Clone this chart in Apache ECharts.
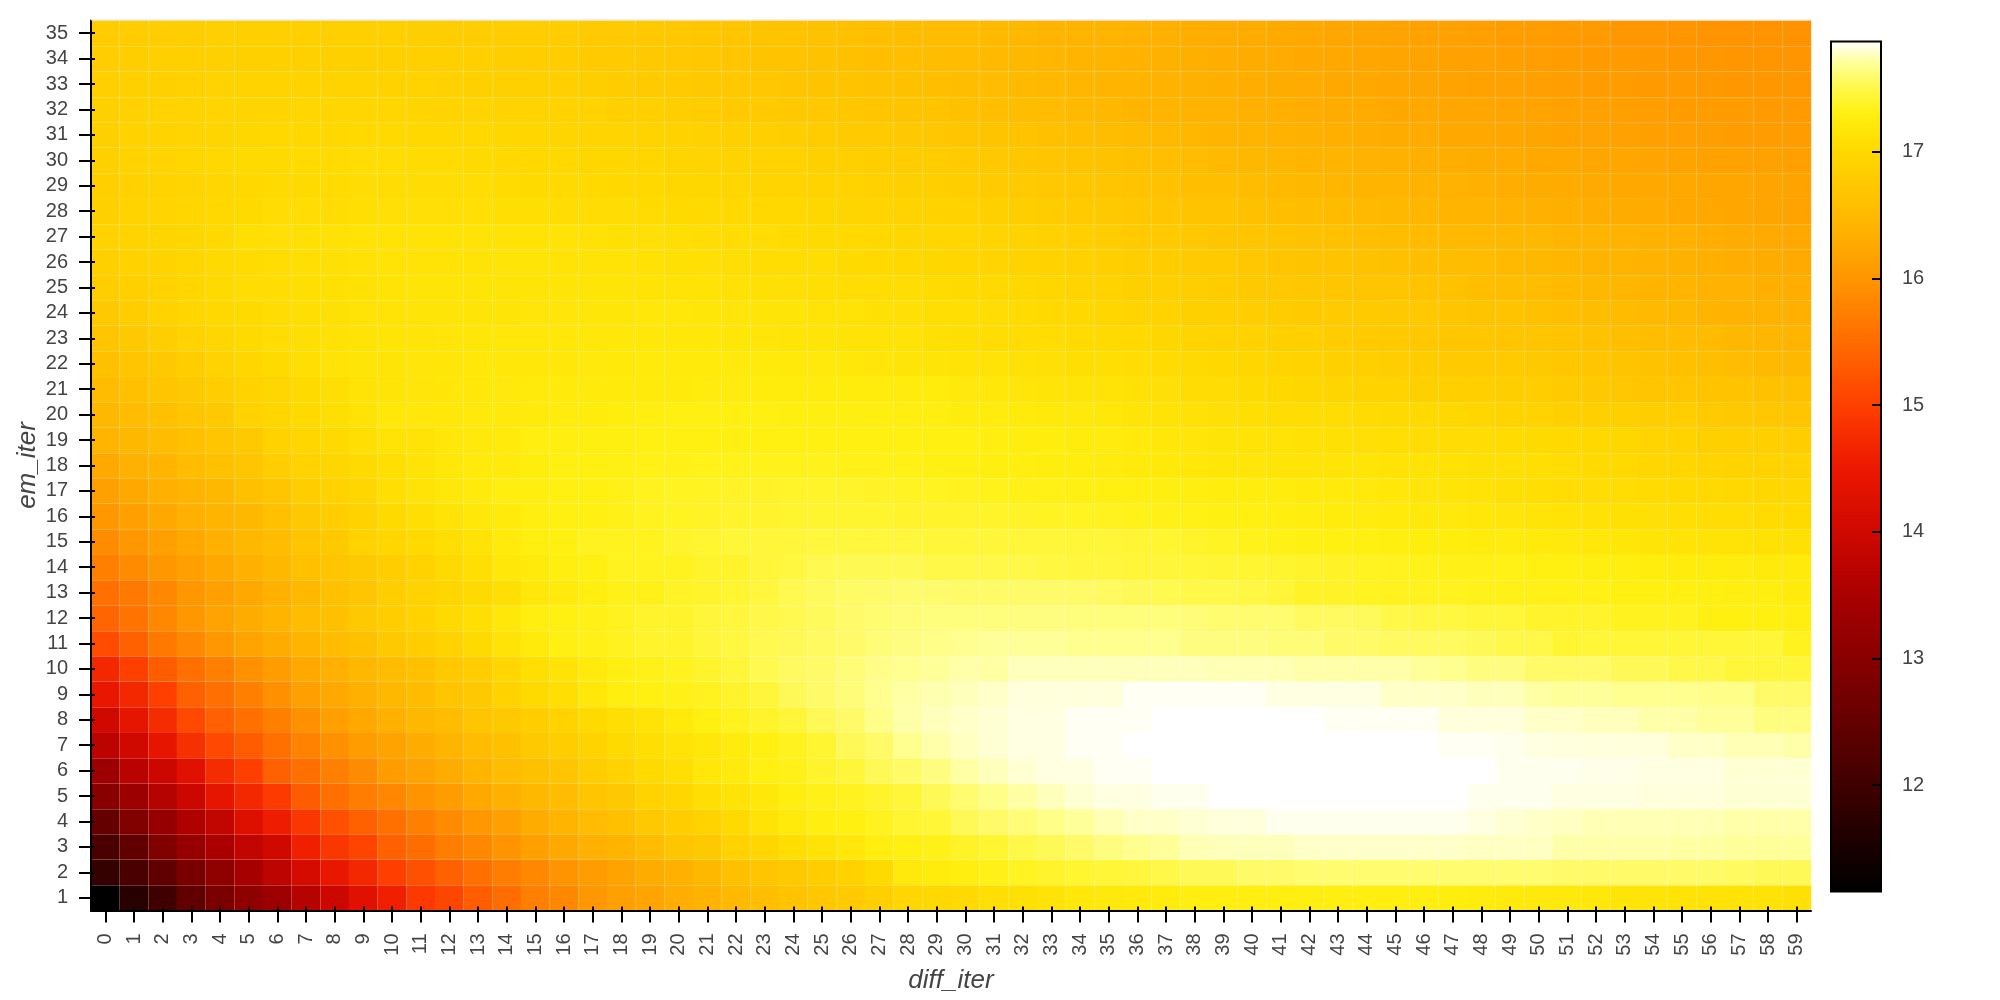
<!DOCTYPE html>
<html>
<head>
<meta charset="utf-8">
<style>html,body{margin:0;padding:0;background:#fff}#c{width:2000px;height:1000px}</style>
<script src="https://cdn.jsdelivr.net/npm/echarts@6/dist/echarts.min.js"></script>
</head>
<body>
<div id="c"></div>
<script>
const diffIter = ["0","1","2","3","4","5","6","7","8","9","10","11","12","13","14","15","16","17","18","19","20","21","22","23","24","25","26","27","28","29","30","31","32","33","34","35","36","37","38","39","40","41","42","43","44","45","46","47","48","49","50","51","52","53","54","55","56","57","58","59"];
const emIter = ["1","2","3","4","5","6","7","8","9","10","11","12","13","14","15","16","17","18","19","20","21","22","23","24","25","26","27","28","29","30","31","32","33","34","35"];
const colorbarTicks = [12,13,14,15,16,17];
const valueMin = 11.16;
const valueMax = 17.87;

const em1 = [11.16,11.7,12.0,12.43,12.8,13.1,13.3,13.65,13.95,14.3,14.6,14.92,15.08,15.33,15.5,15.72,15.83,16.02,16.12,16.2,16.33,16.4,16.5,16.58,16.65,16.72,16.78,16.85,16.96,17.0,
 17.03,17.08,17.1,17.13,17.18,17.2,17.22,17.25,17.28,17.28,17.28,17.28,17.28,17.28,17.28,17.28,17.28,17.26,17.25,17.23,17.2,17.2,17.18,17.15,17.15,17.13,17.13,17.13,17.13,17.1];
const em2 = [11.85,12.15,12.43,12.8,13.1,13.45,13.75,14.1,14.45,14.7,15.0,15.18,15.37,15.55,15.7,15.83,15.98,16.08,16.19,16.3,16.36,16.47,16.61,16.68,16.75,16.82,16.89,17.03,17.2,17.25,
 17.28,17.33,17.36,17.4,17.42,17.44,17.46,17.5,17.54,17.54,17.58,17.58,17.6,17.6,17.6,17.6,17.6,17.6,17.6,17.6,17.6,17.58,17.58,17.58,17.58,17.58,17.58,17.56,17.54,17.54];
const em3 = [12.15,12.43,12.9,13.2,13.5,13.8,14.0,14.6,14.9,15.05,15.37,15.5,15.7,15.83,15.98,16.13,16.25,16.36,16.42,16.53,16.68,16.75,16.89,16.96,17.08,17.13,17.18,17.28,17.3,17.33,
 17.38,17.42,17.5,17.54,17.58,17.64,17.68,17.7,17.75,17.76,17.76,17.76,17.78,17.78,17.78,17.78,17.78,17.78,17.77,17.77,17.77,17.73,17.73,17.73,17.73,17.72,17.72,17.7,17.7,17.7];
const em4 = [12.5,12.9,13.2,13.55,13.8,14.25,14.55,14.9,15.18,15.37,15.55,15.74,15.87,16.03,16.13,16.3,16.42,16.53,16.61,16.75,16.82,16.89,17.03,17.13,17.23,17.28,17.3,17.35,17.42,17.44,
 17.54,17.58,17.62,17.66,17.7,17.75,17.78,17.78,17.8,17.81,17.81,17.84,17.84,17.84,17.84,17.84,17.84,17.84,17.82,17.8,17.78,17.77,17.75,17.75,17.75,17.75,17.75,17.73,17.73,17.73];
const em5 = [13.0,13.3,13.65,13.95,14.4,14.7,14.95,15.32,15.55,15.7,15.83,15.98,16.08,16.25,16.36,16.47,16.53,16.68,16.75,16.89,16.96,17.08,17.13,17.18,17.28,17.33,17.35,17.4,17.45,17.54,
 17.6,17.66,17.72,17.76,17.8,17.82,17.82,17.84,17.84,17.87,17.87,17.87,17.87,17.87,17.87,17.87,17.87,17.87,17.84,17.84,17.84,17.82,17.82,17.82,17.81,17.81,17.81,17.8,17.8,17.8];
const em6 = [13.3,13.7,13.95,14.3,14.75,15.0,15.37,15.55,15.74,15.87,16.08,16.19,16.3,16.42,16.53,16.61,16.68,16.82,16.89,17.03,17.08,17.18,17.23,17.3,17.33,17.4,17.45,17.54,17.58,17.64,
 17.72,17.76,17.8,17.82,17.82,17.85,17.85,17.87,17.87,17.87,17.87,17.87,17.87,17.87,17.87,17.87,17.87,17.87,17.87,17.84,17.84,17.84,17.83,17.83,17.82,17.82,17.82,17.8,17.8,17.8];
const em7 = [13.72,14.0,14.4,14.8,15.1,15.32,15.55,15.78,15.93,16.08,16.19,16.3,16.42,16.53,16.61,16.75,16.82,16.89,17.03,17.08,17.13,17.18,17.25,17.3,17.35,17.42,17.54,17.58,17.68,17.73,
 17.77,17.8,17.82,17.82,17.85,17.85,17.87,17.87,17.87,17.87,17.87,17.87,17.87,17.87,17.87,17.87,17.87,17.85,17.85,17.84,17.82,17.81,17.81,17.81,17.81,17.78,17.78,17.75,17.75,17.73];
const em8 = [14.0,14.4,14.75,15.1,15.37,15.55,15.74,15.93,16.13,16.25,16.36,16.47,16.53,16.68,16.75,16.82,16.89,17.03,17.08,17.13,17.23,17.3,17.35,17.4,17.45,17.54,17.58,17.66,17.73,17.76,
 17.78,17.8,17.82,17.82,17.85,17.85,17.85,17.87,17.87,17.87,17.87,17.87,17.87,17.85,17.85,17.85,17.85,17.81,17.81,17.81,17.78,17.78,17.76,17.76,17.73,17.73,17.7,17.7,17.64,17.64];
const em9 = [14.45,14.7,15.0,15.37,15.55,15.74,15.93,16.13,16.25,16.36,16.47,16.53,16.68,16.75,16.89,17.03,17.08,17.18,17.28,17.3,17.33,17.35,17.4,17.45,17.54,17.58,17.62,17.68,17.72,17.74,
 17.76,17.78,17.81,17.81,17.81,17.81,17.85,17.85,17.85,17.85,17.85,17.82,17.82,17.82,17.82,17.78,17.78,17.78,17.76,17.76,17.72,17.7,17.7,17.68,17.68,17.68,17.66,17.66,17.58,17.58];
const em10 = [14.7,15.0,15.32,15.55,15.74,15.93,16.08,16.25,16.36,16.47,16.53,16.61,16.75,16.82,16.96,17.08,17.13,17.23,17.3,17.33,17.35,17.4,17.45,17.52,17.56,17.58,17.62,17.66,17.68,17.7,
 17.73,17.72,17.76,17.76,17.76,17.76,17.76,17.76,17.76,17.75,17.75,17.75,17.73,17.73,17.73,17.73,17.7,17.68,17.64,17.64,17.58,17.58,17.58,17.54,17.54,17.5,17.5,17.45,17.45,17.45];
const em11 = [15.15,15.37,15.64,15.83,16.03,16.19,16.3,16.42,16.53,16.61,16.75,16.82,16.89,17.03,17.13,17.23,17.3,17.33,17.35,17.4,17.4,17.45,17.47,17.52,17.54,17.56,17.58,17.62,17.64,17.66,
 17.68,17.7,17.7,17.7,17.68,17.68,17.68,17.68,17.64,17.64,17.64,17.62,17.62,17.58,17.58,17.56,17.56,17.56,17.54,17.5,17.5,17.42,17.44,17.44,17.44,17.44,17.44,17.44,17.44,17.35];
const em12 = [15.42,15.6,15.83,16.03,16.19,16.3,16.42,16.53,16.61,16.75,16.82,16.89,17.03,17.08,17.18,17.28,17.3,17.33,17.35,17.4,17.4,17.45,17.46,17.5,17.52,17.55,17.58,17.6,17.62,17.63,
 17.63,17.63,17.64,17.64,17.63,17.63,17.63,17.63,17.62,17.6,17.6,17.6,17.56,17.56,17.55,17.5,17.48,17.47,17.45,17.45,17.4,17.4,17.4,17.35,17.35,17.35,17.3,17.3,17.3,17.28];
const em13 = [15.55,15.64,15.83,16.03,16.13,16.25,16.36,16.47,16.61,16.68,16.82,16.89,16.96,17.03,17.08,17.18,17.23,17.28,17.33,17.33,17.38,17.4,17.42,17.46,17.52,17.55,17.57,17.58,17.59,17.59,
 17.58,17.58,17.58,17.58,17.58,17.56,17.54,17.52,17.5,17.5,17.48,17.45,17.38,17.38,17.36,17.35,17.35,17.35,17.34,17.33,17.33,17.32,17.32,17.3,17.3,17.3,17.3,17.28,17.28,17.23];
const em14 = [15.74,15.87,16.03,16.13,16.25,16.36,16.47,16.61,16.68,16.75,16.82,16.89,17.03,17.08,17.18,17.23,17.28,17.3,17.35,17.35,17.35,17.4,17.4,17.45,17.47,17.52,17.53,17.53,17.53,17.5,
 17.5,17.5,17.5,17.47,17.46,17.46,17.45,17.45,17.44,17.43,17.42,17.41,17.4,17.38,17.36,17.35,17.34,17.33,17.33,17.32,17.3,17.3,17.29,17.28,17.26,17.25,17.25,17.24,17.23,17.22];
const em15 = [15.87,16.03,16.13,16.25,16.36,16.47,16.53,16.68,16.75,16.89,16.96,17.03,17.08,17.13,17.23,17.28,17.3,17.35,17.35,17.35,17.4,17.42,17.44,17.45,17.45,17.46,17.46,17.46,17.46,17.45,
 17.45,17.45,17.45,17.45,17.44,17.44,17.43,17.42,17.4,17.37,17.34,17.32,17.31,17.3,17.3,17.29,17.27,17.26,17.25,17.24,17.23,17.2,17.18,17.17,17.14,17.13,17.13,17.12,17.11,17.1];
const em16 = [16.03,16.13,16.25,16.36,16.42,16.47,16.61,16.75,16.82,16.89,17.03,17.08,17.13,17.18,17.23,17.28,17.3,17.3,17.33,17.35,17.36,17.38,17.4,17.4,17.41,17.41,17.41,17.41,17.4,17.4,
 17.4,17.39,17.38,17.37,17.36,17.35,17.34,17.33,17.32,17.31,17.3,17.28,17.26,17.25,17.24,17.23,17.21,17.2,17.18,17.16,17.15,17.13,17.11,17.1,17.09,17.08,17.06,17.05,17.04,17.03];
const em17 = [16.13,16.25,16.36,16.42,16.47,16.61,16.68,16.82,16.89,16.96,17.08,17.13,17.18,17.23,17.28,17.28,17.3,17.3,17.33,17.35,17.36,17.37,17.38,17.38,17.39,17.39,17.39,17.38,17.37,17.36,
 17.35,17.34,17.33,17.32,17.31,17.3,17.3,17.29,17.28,17.27,17.27,17.25,17.23,17.22,17.2,17.18,17.16,17.14,17.12,17.1,17.08,17.07,17.06,17.05,17.04,17.03,17.01,17.0,16.98,16.97];
const em18 = [16.25,16.36,16.42,16.53,16.61,16.68,16.82,16.89,16.96,17.03,17.08,17.13,17.18,17.23,17.23,17.27,17.3,17.3,17.31,17.32,17.33,17.34,17.34,17.34,17.34,17.34,17.33,17.33,17.32,17.31,
 17.3,17.29,17.28,17.27,17.26,17.25,17.23,17.21,17.19,17.17,17.16,17.15,17.15,17.14,17.14,17.13,17.12,17.11,17.1,17.09,17.08,17.06,17.03,17.01,16.98,16.96,16.94,16.92,16.91,16.89];
const em19 = [16.42,16.47,16.53,16.61,16.68,16.75,16.89,16.96,17.03,17.08,17.13,17.13,17.18,17.2,17.23,17.28,17.28,17.29,17.29,17.3,17.3,17.3,17.3,17.3,17.3,17.3,17.3,17.3,17.3,17.3,
 17.3,17.28,17.27,17.26,17.25,17.24,17.22,17.19,17.16,17.14,17.13,17.12,17.11,17.1,17.09,17.08,17.07,17.06,17.05,17.04,17.03,17.01,16.99,16.97,16.94,16.89,16.87,16.85,16.84,16.82];
const em20 = [16.47,16.53,16.61,16.68,16.75,16.89,16.96,17.03,17.08,17.13,17.18,17.18,17.18,17.2,17.2,17.23,17.24,17.25,17.26,17.28,17.3,17.3,17.3,17.3,17.29,17.29,17.29,17.28,17.28,17.28,
 17.25,17.24,17.22,17.21,17.2,17.18,17.15,17.13,17.11,17.09,17.08,17.07,17.06,17.05,17.04,17.03,17.01,16.99,16.96,16.92,16.89,16.87,16.85,16.84,16.83,16.82,16.79,16.75,16.72,16.68];
const em21 = [16.53,16.61,16.68,16.75,16.82,16.89,16.96,17.03,17.08,17.12,17.14,17.16,17.18,17.18,17.2,17.23,17.23,17.23,17.23,17.23,17.23,17.24,17.24,17.25,17.25,17.25,17.25,17.25,17.25,17.25,
 17.2,17.18,17.16,17.15,17.14,17.13,17.11,17.09,17.07,17.05,17.03,17.0,16.97,16.95,16.92,16.89,16.87,16.85,16.84,16.83,16.82,16.78,16.75,16.72,16.7,16.68,16.66,16.64,16.62,16.61];
const em22 = [16.61,16.68,16.75,16.82,16.89,16.96,17.03,17.08,17.13,17.14,17.15,17.16,17.17,17.18,17.18,17.18,17.19,17.2,17.21,17.22,17.23,17.23,17.23,17.22,17.21,17.2,17.18,17.16,17.15,17.14,
 17.13,17.12,17.11,17.09,17.08,17.08,17.06,17.04,17.02,16.99,16.96,16.93,16.9,16.87,16.84,16.82,16.81,16.79,16.78,16.76,16.75,16.72,16.69,16.66,16.63,16.61,16.58,16.54,16.5,16.47];
const em23 = [16.68,16.75,16.82,16.89,16.96,17.03,17.05,17.08,17.11,17.13,17.14,17.15,17.16,17.17,17.18,17.18,17.18,17.18,17.18,17.18,17.18,17.18,17.17,17.16,17.15,17.14,17.13,17.13,17.12,17.1,
 17.08,17.07,17.06,17.05,17.04,17.03,17.01,16.98,16.95,16.92,16.89,16.87,16.84,16.81,16.78,16.75,16.74,16.72,16.71,16.69,16.68,16.65,16.62,16.59,16.56,16.53,16.51,16.48,16.45,16.42];
const em24 = [16.75,16.82,16.89,16.96,17.0,17.03,17.05,17.08,17.1,17.12,17.13,17.14,17.14,17.15,17.15,17.16,17.16,17.17,17.17,17.18,17.18,17.17,17.16,17.15,17.14,17.13,17.12,17.1,17.09,17.08,
 17.08,17.06,17.04,17.01,16.99,16.96,16.93,16.9,16.87,16.85,16.82,16.81,16.79,16.77,16.76,16.75,16.73,16.7,16.67,16.64,16.61,16.58,16.55,16.52,16.49,16.47,16.43,16.4,16.38,16.36];
const em25 = [16.82,16.85,16.89,16.96,17.03,17.05,17.07,17.08,17.1,17.11,17.13,17.14,17.14,17.15,17.15,17.15,17.15,17.14,17.14,17.13,17.13,17.12,17.11,17.1,17.09,17.08,17.07,17.06,17.05,17.04,
 17.03,17.01,16.99,16.97,16.94,16.89,16.87,16.85,16.83,16.8,16.75,16.74,16.72,16.7,16.69,16.68,16.65,16.62,16.59,16.56,16.53,16.5,16.47,16.45,16.44,16.42,16.4,16.38,16.35,16.33];
const em26 = [16.87,16.89,16.92,16.96,17.02,17.04,17.06,17.08,17.1,17.11,17.13,17.13,17.13,17.13,17.14,17.14,17.13,17.13,17.12,17.11,17.1,17.09,17.08,17.07,17.06,17.05,17.03,17.01,17.0,16.98,
 16.96,16.94,16.92,16.9,16.88,16.85,16.83,16.81,16.79,16.76,16.71,16.69,16.67,16.65,16.63,16.61,16.59,16.56,16.53,16.5,16.47,16.45,16.43,16.41,16.39,16.37,16.34,16.32,16.3,16.28];
const em27 = [16.89,16.92,16.95,16.98,17.01,17.08,17.09,17.1,17.11,17.12,17.13,17.13,17.13,17.13,17.13,17.13,17.12,17.11,17.1,17.09,17.08,17.07,17.06,17.05,17.04,17.03,17.01,16.99,16.97,16.96,
 16.96,16.93,16.91,16.88,16.85,16.82,16.79,16.76,16.73,16.7,16.68,16.66,16.63,16.6,16.57,16.55,16.52,16.5,16.49,16.48,16.47,16.44,16.41,16.39,16.37,16.36,16.33,16.3,16.28,16.25];
const em28 = [16.87,16.9,16.93,16.96,16.99,17.03,17.05,17.06,17.07,17.08,17.09,17.09,17.09,17.09,17.08,17.08,17.07,17.06,17.05,17.04,17.03,17.02,17.01,17.0,16.99,16.97,16.95,16.93,16.91,16.9,
 16.89,16.86,16.83,16.8,16.77,16.75,16.72,16.69,16.66,16.64,16.61,16.58,16.55,16.52,16.5,16.47,16.45,16.43,16.41,16.39,16.36,16.34,16.33,16.31,16.29,16.27,16.25,16.23,16.21,16.19];
const em29 = [16.85,16.88,16.91,16.93,16.96,17.0,17.02,17.03,17.04,17.05,17.05,17.05,17.05,17.05,17.04,17.03,17.02,17.01,17.0,16.99,16.98,16.97,16.96,16.95,16.93,16.92,16.9,16.88,16.86,16.84,
 16.82,16.79,16.76,16.73,16.71,16.68,16.65,16.62,16.59,16.57,16.53,16.5,16.47,16.45,16.43,16.42,16.4,16.38,16.36,16.33,16.3,16.29,16.28,16.27,16.26,16.25,16.23,16.22,16.2,16.19];
const em30 = [16.87,16.9,16.93,16.96,17.0,17.03,17.03,17.04,17.04,17.05,17.05,17.04,17.04,17.03,17.02,17.0,16.99,16.98,16.97,16.96,16.95,16.93,16.92,16.9,16.89,16.87,16.85,16.83,16.81,16.8,
 16.78,16.75,16.72,16.69,16.66,16.63,16.6,16.57,16.54,16.5,16.47,16.45,16.43,16.41,16.39,16.37,16.35,16.33,16.31,16.29,16.27,16.25,16.24,16.22,16.2,16.18,16.17,16.16,16.15,16.14];
const em31 = [16.86,16.89,16.91,16.93,16.95,16.98,16.99,17.0,17.0,17.01,17.01,17.0,17.0,16.99,16.98,16.96,16.95,16.94,16.93,16.91,16.9,16.88,16.87,16.85,16.83,16.81,16.79,16.77,16.75,16.72,
 16.7,16.67,16.64,16.61,16.58,16.55,16.52,16.49,16.46,16.43,16.41,16.39,16.37,16.35,16.33,16.31,16.29,16.27,16.25,16.23,16.21,16.19,16.18,16.16,16.14,16.12,16.11,16.1,16.09,16.08];
const em32 = [16.86,16.88,16.9,16.91,16.93,16.95,16.95,16.96,16.96,16.96,16.96,16.95,16.94,16.93,16.92,16.91,16.9,16.89,16.87,16.85,16.83,16.81,16.79,16.77,16.75,16.73,16.71,16.69,16.67,16.64,
 16.61,16.58,16.56,16.53,16.5,16.47,16.44,16.42,16.4,16.38,16.36,16.34,16.32,16.3,16.29,16.27,16.25,16.24,16.22,16.2,16.19,16.17,16.15,16.13,16.11,16.1,16.09,16.08,16.06,16.05];
const em33 = [16.84,16.86,16.87,16.88,16.89,16.9,16.91,16.91,16.91,16.91,16.9,16.89,16.88,16.87,16.87,16.86,16.85,16.83,16.81,16.79,16.77,16.75,16.73,16.71,16.69,16.67,16.65,16.63,16.61,16.59,
 16.56,16.53,16.5,16.47,16.45,16.43,16.41,16.39,16.37,16.35,16.33,16.31,16.29,16.27,16.25,16.23,16.21,16.19,16.17,16.15,16.13,16.11,16.1,16.08,16.06,16.05,16.04,16.03,16.02,16.01];
const em34 = [16.82,16.83,16.84,16.85,16.86,16.87,16.87,16.87,16.87,16.87,16.86,16.85,16.85,16.84,16.83,16.82,16.81,16.79,16.77,16.75,16.73,16.71,16.69,16.67,16.65,16.63,16.61,16.59,16.57,16.55,
 16.53,16.5,16.47,16.45,16.43,16.41,16.39,16.37,16.35,16.33,16.31,16.29,16.27,16.25,16.23,16.21,16.19,16.17,16.15,16.13,16.11,16.09,16.07,16.05,16.04,16.02,16.01,16.0,16.0,15.99];
const em35 = [16.8,16.81,16.82,16.83,16.84,16.85,16.85,16.85,16.84,16.84,16.84,16.83,16.83,16.82,16.82,16.82,16.8,16.78,16.76,16.75,16.73,16.71,16.69,16.67,16.65,16.63,16.6,16.58,16.55,16.53,
 16.53,16.5,16.47,16.44,16.42,16.42,16.39,16.36,16.33,16.31,16.3,16.28,16.26,16.24,16.21,16.19,16.17,16.15,16.13,16.1,16.08,16.06,16.05,16.03,16.01,15.99,15.98,15.97,15.96,15.95];

const rows = [em1,em2,em3,em4,em5,em6,em7,em8,em9,em10,em11,em12,em13,em14,em15,em16,em17,em18,em19,em20,em21,em22,em23,em24,em25,em26,em27,em28,em29,em30,em31,em32,em33,em34,em35];
const cells = [];
rows.forEach((r, y) => r.forEach((v, x) => cells.push([x, y, v])));

// colour ramp of the bar, as value / colour stops
const rampStops = [[11.16,'#000000'],[11.6,'#200000'],[12,'#400000'],[12.5,'#650000'],[13,'#880000'],[13.5,'#aa0000'],[14,'#cf0800'],[14.5,'#ec1800'],[15,'#ff3f00'],[15.5,'#ff6c00'],[16,'#ff9600'],[16.5,'#ffba00'],[17,'#ffd800'],[17.3,'#fff010'],[17.5,'#fff848'],[17.7,'#ffff98'],[17.87,'#ffffff']];
function hex(c){return [1,3,5].map(i=>parseInt(c.substr(i,2),16));}
const palette = [];
for (let i = 0; i < 256; i++) {
  const v = valueMin + (valueMax - valueMin) * i / 255;
  let k = 0;
  while (k < rampStops.length - 2 && v > rampStops[k + 1][0]) k++;
  const a = rampStops[k], b = rampStops[k + 1], t = (v - a[0]) / (b[0] - a[0]);
  const ca = hex(a[1]), cb = hex(b[1]);
  palette.push('rgb(' + ca.map((x, j) => Math.round(x + (cb[j] - x) * t)).join(',') + ')');
}

const font = '"Liberation Sans", Arial, Helvetica, sans-serif';
const seam = {show:true, lineStyle:{color:'rgba(255,255,255,0.22)', width:1}};
const chart = echarts.init(document.getElementById('c'), null, {renderer:'canvas'});
chart.setOption({
  animation:false,
  backgroundColor:'#fff',
  grid:[
    {left:91, top:20.5, width:1720, height:890, containLabel:false},
    {left:1831, top:41.5, width:50, height:850}
  ],
  xAxis:[
    {type:'category', gridIndex:0, data:diffIter, position:'bottom', z:5,
     name:'diff_iter', nameLocation:'middle', nameGap:57, nameMoveOverlap:false,
     nameTextStyle:{fontFamily:font, fontStyle:'italic', fontSize:26, color:'#444'},
     axisLine:{show:true, onZero:false, lineStyle:{color:'#000', width:2}},
     axisTick:{show:true, alignWithLabel:true, length:12, lineStyle:{color:'#000', width:2}},
     axisLabel:{interval:0, rotate:90, margin:23, fontFamily:font, fontSize:20, color:'#444'},
     splitLine:Object.assign({interval:i => i % 3 !== 0}, seam)},
    {type:'category', gridIndex:0, data:diffIter, position:'bottom', z:5,
     axisLine:{show:false, onZero:false},
     axisTick:{show:true, inside:true, alignWithLabel:true, length:4, interval:0, lineStyle:{color:'#000', width:2}},
     axisLabel:{show:false}, splitLine:{show:false}},
    {type:'value', gridIndex:1, min:0, max:1, show:false}
  ],
  yAxis:[
    {type:'category', gridIndex:0, data:emIter, position:'left', z:5,
     name:'em_iter', nameLocation:'middle', nameGap:50, nameMoveOverlap:false,
     nameTextStyle:{fontFamily:font, fontStyle:'italic', fontSize:26, color:'#444'},
     axisLine:{show:true, onZero:false, lineStyle:{color:'#000', width:2}},
     axisTick:{show:true, alignWithLabel:true, length:12, lineStyle:{color:'#000', width:2}},
     axisLabel:{interval:0, margin:23, fontFamily:font, fontSize:20, color:'#444'},
     splitLine:Object.assign({interval:i => i % 7 !== 0}, seam)},
    {type:'category', gridIndex:0, data:emIter, position:'left', z:5,
     axisLine:{show:false, onZero:false},
     axisTick:{show:true, inside:true, alignWithLabel:true, length:4, interval:0, lineStyle:{color:'#000', width:2}},
     axisLabel:{show:false}, splitLine:{show:false}},
    {type:'value', gridIndex:1, min:valueMin, max:valueMax, position:'right', z:6,
     axisLine:{show:false, onZero:false},
     axisTick:{show:true, inside:true, length:9, customValues:colorbarTicks, lineStyle:{color:'#000', width:2}},
     axisLabel:{show:true, margin:21, customValues:colorbarTicks, fontFamily:font, fontSize:20, color:'#444'},
     splitLine:{show:false}}
  ],
  visualMap:[{
    type:'continuous', seriesIndex:0, min:valueMin, max:valueMax, calculable:false, hoverLink:false,
    left:1831, top:41.5, itemWidth:50, itemHeight:850, padding:0, showLabel:false, text:null,
    inRange:{color:palette}, z:4
  }],
  series:[{
    type:'heatmap', xAxisIndex:0, yAxisIndex:0, data:cells, progressive:0, animation:false,
    itemStyle:{borderWidth:0}, emphasis:{disabled:true}
  }],
  graphic:[
    {type:'rect', z:20, shape:{x:91, y:19.5, width:1720, height:1}, style:{fill:'#e5e5e5'}},
    {type:'rect', z:20, shape:{x:1831, y:41.5, width:50, height:850}, style:{fill:null, stroke:'#000', lineWidth:2}}
  ]
});
</script>
</body>
</html>
